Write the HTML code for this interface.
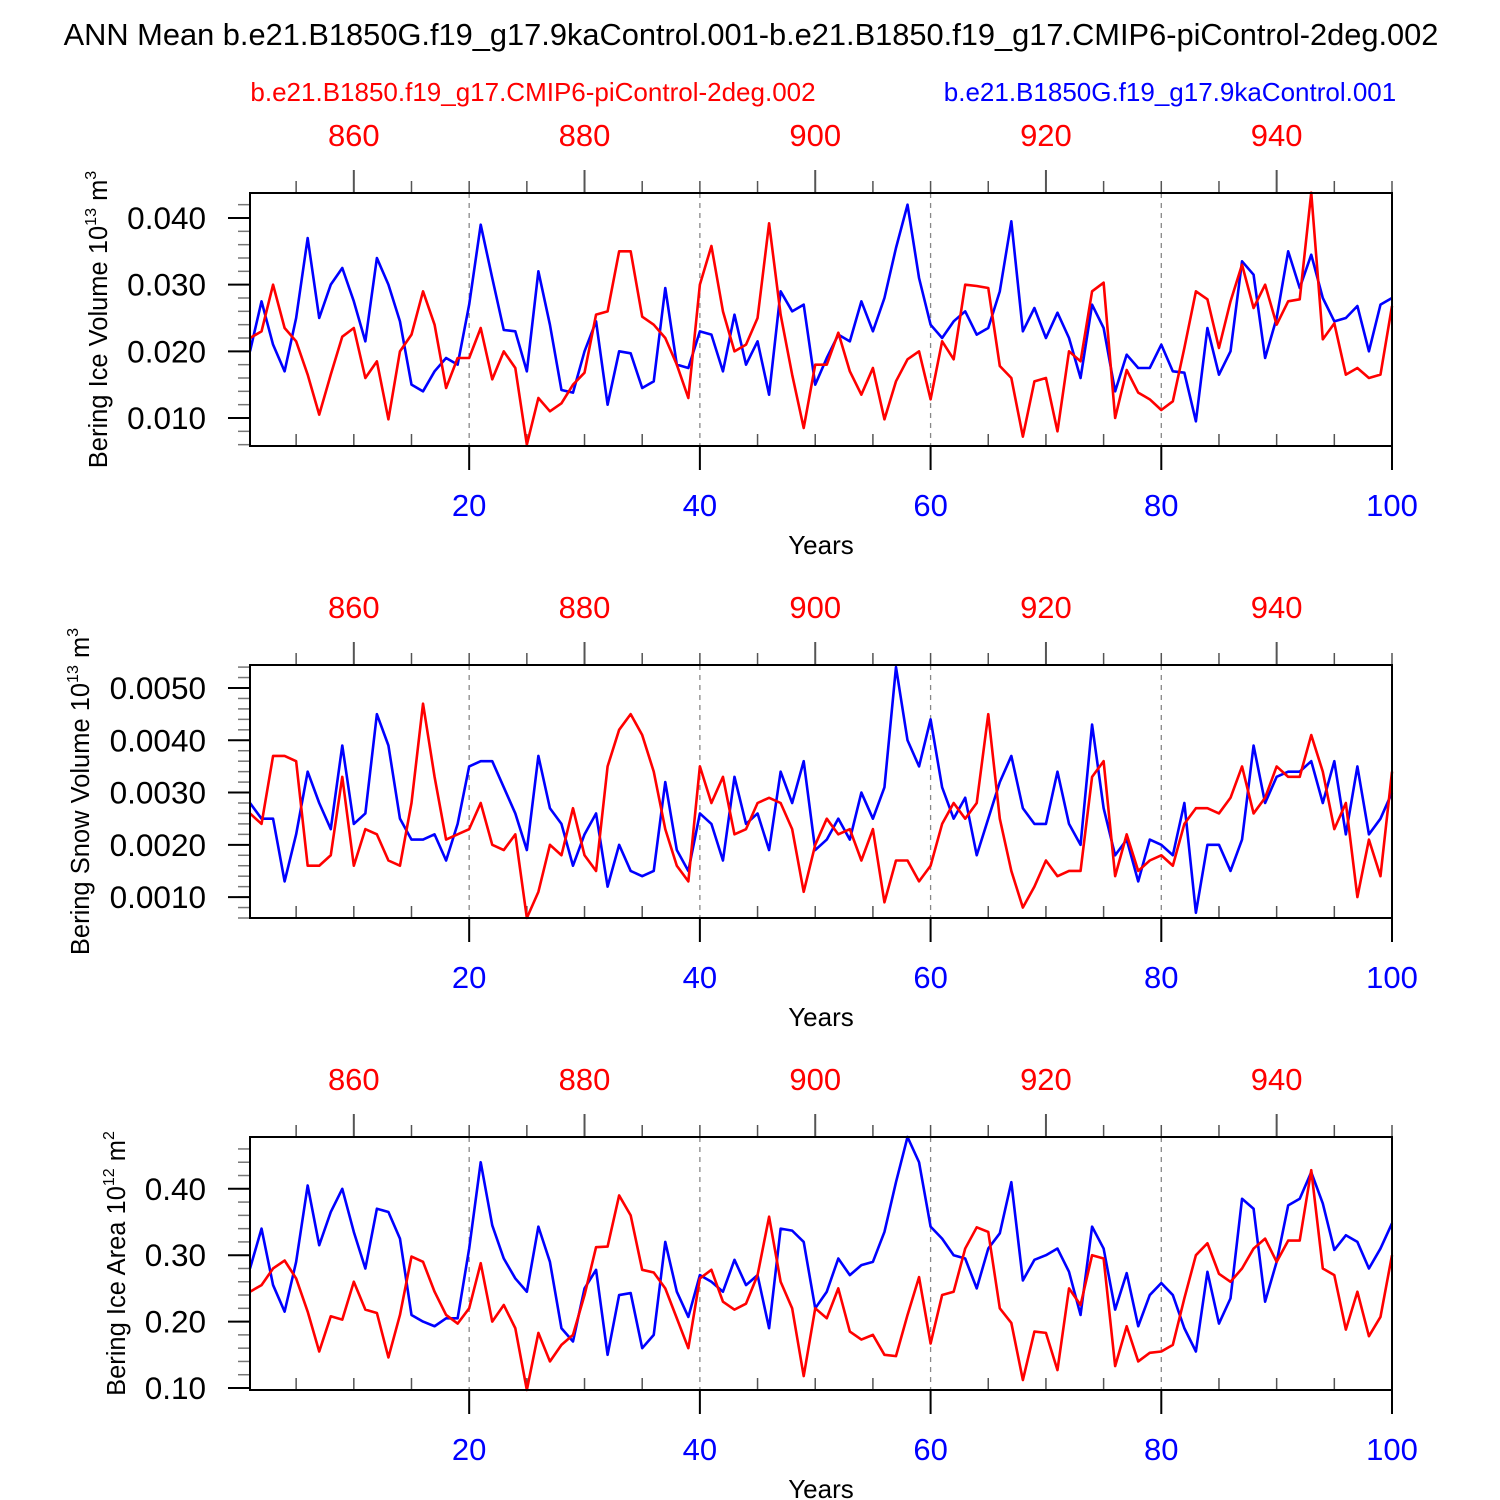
<!DOCTYPE html>
<html><head><meta charset="utf-8"><style>
body{margin:0;background:#fff}
svg{display:block;font-family:"Liberation Sans",Arial,sans-serif}
</style></head><body>
<svg id="chart" width="1500" height="1500" viewBox="0 0 1500 1500" xmlns="http://www.w3.org/2000/svg">
<text x="751" y="45" font-size="30.8" text-anchor="middle">ANN Mean b.e21.B1850G.f19_g17.9kaControl.001-b.e21.B1850.f19_g17.CMIP6-piControl-2deg.002</text>
<text x="533" y="101" font-size="26" text-anchor="middle" fill="#ff0000">b.e21.B1850.f19_g17.CMIP6-piControl-2deg.002</text>
<text x="1170" y="101" font-size="26" text-anchor="middle" fill="#0000ff">b.e21.B1850G.f19_g17.9kaControl.001</text>
<g id="plots"></g>
</svg>
<script>
const iceVolBlue=[0.020,0.0275,0.021,0.017,0.025,0.037,0.025,0.030,0.0325,0.0275,0.0215,0.034,0.030,0.0245,0.015,0.014,0.017,0.019,0.018,0.027,0.039,0.031,0.0232,0.023,0.017,0.032,0.024,0.0142,0.0138,0.020,0.0245,0.012,0.020,0.0197,0.0145,0.0155,0.0295,0.018,0.0175,0.023,0.0225,0.017,0.0255,0.018,0.0215,0.0135,0.029,0.026,0.027,0.015,0.019,0.0225,0.0215,0.0275,0.023,0.028,0.0355,0.042,0.031,0.024,0.022,0.0245,0.026,0.0225,0.0235,0.029,0.0395,0.023,0.0265,0.022,0.0258,0.022,0.016,0.027,0.0235,0.014,0.0195,0.0175,0.0175,0.021,0.017,0.0168,0.0095,0.0235,0.0165,0.020,0.0335,0.0315,0.019,0.025,0.035,0.0295,0.0345,0.028,0.0245,0.025,0.0268,0.020,0.027,0.028];
const iceVolRed=[0.022,0.023,0.030,0.0235,0.0215,0.0165,0.0105,0.0165,0.0222,0.0235,0.016,0.0185,0.0098,0.020,0.0225,0.029,0.024,0.0145,0.019,0.019,0.0235,0.0158,0.020,0.0175,0.006,0.013,0.011,0.0122,0.015,0.0168,0.0255,0.026,0.035,0.035,0.0252,0.024,0.022,0.018,0.013,0.030,0.0358,0.026,0.020,0.021,0.025,0.0392,0.0255,0.0165,0.0085,0.018,0.018,0.0228,0.017,0.0135,0.0175,0.0098,0.0155,0.0188,0.020,0.0128,0.0215,0.0188,0.030,0.0298,0.0295,0.0178,0.016,0.0072,0.0155,0.016,0.008,0.020,0.0185,0.029,0.0303,0.010,0.0172,0.0138,0.0128,0.0112,0.0125,0.0205,0.029,0.0278,0.0205,0.0275,0.033,0.0265,0.030,0.024,0.0275,0.0278,0.0438,0.0218,0.0242,0.0165,0.0175,0.016,0.0165,0.0268];
const snowBlue=[0.0028,0.0025,0.0025,0.0013,0.0022,0.0034,0.0028,0.0023,0.0039,0.0024,0.0026,0.0045,0.0039,0.0025,0.0021,0.0021,0.0022,0.0017,0.0024,0.0035,0.0036,0.0036,0.0031,0.0026,0.0019,0.0037,0.0027,0.0024,0.0016,0.0022,0.0026,0.0012,0.0020,0.0015,0.0014,0.0015,0.0032,0.0019,0.0015,0.0026,0.0024,0.0017,0.0033,0.0024,0.0026,0.0019,0.0034,0.0028,0.0036,0.0019,0.0021,0.0025,0.0021,0.0030,0.0025,0.0031,0.0054,0.0040,0.0035,0.0044,0.0031,0.0025,0.0029,0.0018,0.0025,0.0032,0.0037,0.0027,0.0024,0.0024,0.0034,0.0024,0.0020,0.0043,0.0027,0.0018,0.0021,0.0013,0.0021,0.0020,0.0018,0.0028,0.0007,0.0020,0.0020,0.0015,0.0021,0.0039,0.0028,0.0033,0.0034,0.0034,0.0036,0.0028,0.0036,0.0022,0.0035,0.0022,0.0025,0.0030];
const snowRed=[0.0026,0.0024,0.0037,0.0037,0.0036,0.0016,0.0016,0.0018,0.0033,0.0016,0.0023,0.0022,0.0017,0.0016,0.0028,0.0047,0.0033,0.0021,0.0022,0.0023,0.0028,0.0020,0.0019,0.0022,0.0006,0.0011,0.0020,0.0018,0.0027,0.0018,0.0015,0.0035,0.0042,0.0045,0.0041,0.0034,0.0023,0.0016,0.0013,0.0035,0.0028,0.0033,0.0022,0.0023,0.0028,0.0029,0.0028,0.0023,0.0011,0.0020,0.0025,0.0022,0.0023,0.0017,0.0023,0.0009,0.0017,0.0017,0.0013,0.0016,0.0024,0.0028,0.0025,0.0028,0.0045,0.0025,0.0015,0.0008,0.0012,0.0017,0.0014,0.0015,0.0015,0.0033,0.0036,0.0014,0.0022,0.0015,0.0017,0.0018,0.0016,0.0024,0.0027,0.0027,0.0026,0.0029,0.0035,0.0026,0.0029,0.0035,0.0033,0.0033,0.0041,0.0034,0.0023,0.0028,0.0010,0.0021,0.0014,0.0034];
const areaBlue=[0.28,0.34,0.255,0.215,0.29,0.405,0.315,0.365,0.40,0.335,0.28,0.37,0.365,0.325,0.21,0.20,0.193,0.205,0.205,0.31,0.44,0.345,0.295,0.265,0.245,0.343,0.29,0.19,0.17,0.25,0.278,0.15,0.24,0.243,0.16,0.18,0.32,0.245,0.207,0.27,0.26,0.245,0.293,0.255,0.27,0.19,0.34,0.337,0.32,0.22,0.245,0.295,0.27,0.285,0.29,0.335,0.41,0.478,0.44,0.343,0.325,0.30,0.295,0.25,0.31,0.333,0.41,0.262,0.293,0.30,0.31,0.275,0.21,0.343,0.31,0.218,0.273,0.193,0.24,0.258,0.24,0.19,0.155,0.275,0.197,0.235,0.385,0.37,0.23,0.29,0.375,0.385,0.425,0.378,0.308,0.33,0.32,0.28,0.31,0.348];
const areaRed=[0.245,0.255,0.28,0.292,0.265,0.215,0.155,0.208,0.203,0.26,0.218,0.213,0.146,0.21,0.298,0.29,0.245,0.21,0.197,0.22,0.288,0.2,0.225,0.19,0.097,0.183,0.14,0.165,0.18,0.24,0.312,0.313,0.39,0.36,0.278,0.274,0.25,0.205,0.16,0.265,0.278,0.23,0.218,0.227,0.27,0.358,0.26,0.22,0.118,0.22,0.205,0.25,0.185,0.173,0.18,0.15,0.148,0.21,0.267,0.167,0.24,0.245,0.31,0.342,0.335,0.22,0.198,0.112,0.185,0.183,0.127,0.25,0.225,0.3,0.295,0.133,0.193,0.14,0.153,0.155,0.165,0.235,0.3,0.318,0.272,0.26,0.28,0.31,0.325,0.29,0.322,0.322,0.428,0.28,0.27,0.188,0.245,0.178,0.207,0.30];
const bottomTickLabels=["20","40","60","80","100"];
const topTickLabels=["860","880","900","920","940"];
const iceVolTicks=["0.010","0.020","0.030","0.040"];
const snowTicks=["0.0010","0.0020","0.0030","0.0040","0.0050"];
const areaTicks=["0.10","0.20","0.30","0.40"];

const NS="http://www.w3.org/2000/svg";
const g=document.getElementById('plots');
const X0=250,X1=1392;
const xs=t=>X0+(t-1)*(X1-X0)/99;
function mk(tag,attrs,parent){const e=document.createElementNS(NS,tag);for(const k in attrs)e.setAttribute(k,attrs[k]);(parent||g).appendChild(e);return e;}
const panels=[
 {top:193,vTop:0.04375,vBot:0.0058,minor:0.002,ticks:iceVolTicks,blue:iceVolBlue,red:iceVolRed,name:'ice-volume',title:'Bering Ice Volume 10',sup:'13',unit:' m',usup:'3',tx:107},
 {top:665,vTop:0.00544,vBot:0.0006,minor:0.0002,ticks:snowTicks,blue:snowBlue,red:snowRed,name:'snow-volume',title:'Bering Snow Volume 10',sup:'13',unit:' m',usup:'3',tx:89},
 {top:1137,vTop:0.478,vBot:0.097,minor:0.02,ticks:areaTicks,blue:areaBlue,red:areaRed,name:'ice-area',title:'Bering Ice Area 10',sup:'12',unit:' m',usup:'2',tx:125}
];
panels.forEach(p=>{
 const T=p.top,B=T+253;
 const ys=v=>T+(p.vTop-v)/(p.vTop-p.vBot)*(B-T);
 const pg=mk('g',{});
 
 
 [20,40,60,80].forEach(t=>{const l=mk('line',{x1:xs(t),x2:xs(t),y1:T,y2:B,stroke:'#888','stroke-width':1.3,'stroke-dasharray':'5,5'},pg);
  
  });
 for(let t=5;t<=100;t+=5){
  if(t%20===0){mk('line',{x1:xs(t),x2:xs(t),y1:B,y2:B+24,stroke:'#000','stroke-width':2},pg);}
  else mk('line',{x1:xs(t),x2:xs(t),y1:B,y2:B-12,stroke:'#555','stroke-width':1.5},pg);
 }
 bottomTickLabels.forEach((s,i)=>{const t=mk('text',{x:xs(20*(i+1)),y:B+70,'font-size':31,'text-anchor':'middle',fill:'#0000ff'},pg);t.textContent=s;
  
  });
 const xt=mk('text',{x:821,y:B+108,'font-size':26,'text-anchor':'middle'},pg);xt.textContent='Years';
 
 
 for(let t=5;t<=100;t+=5){
  if(t%20===10)mk('line',{x1:xs(t),x2:xs(t),y1:T,y2:T-23,stroke:'#555','stroke-width':2},pg);
  else mk('line',{x1:xs(t),x2:xs(t),y1:T,y2:T-12,stroke:'#555','stroke-width':1.5},pg);
 }
 topTickLabels.forEach(s=>{const t=mk('text',{x:xs(+s-850),y:T-47,'font-size':31,'text-anchor':'middle',fill:'#ff0000'},pg);t.textContent=s;
  
  });
 const n0=Math.ceil(p.vBot/p.minor-1e-6),n1=Math.floor(p.vTop/p.minor+1e-6);
 for(let k=n0;k<=n1;k++){mk('line',{x1:X0,x2:X0-12,y1:ys(k*p.minor),y2:ys(k*p.minor),stroke:'#777','stroke-width':1.5},pg);}
 p.ticks.forEach(s=>{const y=ys(+s);mk('line',{x1:X0,x2:X0-22,y1:y,y2:y,stroke:'#000','stroke-width':2},pg);
  const t=mk('text',{x:X0-44,y:y+11,'font-size':31.5,'text-anchor':'end'},pg);t.textContent=s;
  
  });
 [['blue',p.blue,'#0000ff'],['red',p.red,'#ff0000']].forEach(([nm,arr,c])=>{
  const d=arr.map((v,i)=>(i?'L':'M')+xs(i+1).toFixed(2)+','+ys(v).toFixed(2)).join('');
  const path=mk('path',{d:d,fill:'none',stroke:c,'stroke-width':2.6,'stroke-linejoin':'round'},pg);
  
  
 });
 const fr=mk('rect',{x:X0,y:T,width:X1-X0,height:B-T,fill:'none',stroke:'#000','stroke-width':2},pg);
 
 
 const cy=(T+B)/2;
 const yt=mk('text',{x:p.tx,y:cy,'font-size':25.5,'text-anchor':'middle',transform:`rotate(-90 ${p.tx} ${cy})`},pg);
 
 
 yt.innerHTML=`${p.title}<tspan font-size="16" dy="-11">${p.sup}</tspan><tspan dy="11">${p.unit}</tspan><tspan font-size="16" dy="-11">${p.usup}</tspan>`;
});
</script>
</body></html>
